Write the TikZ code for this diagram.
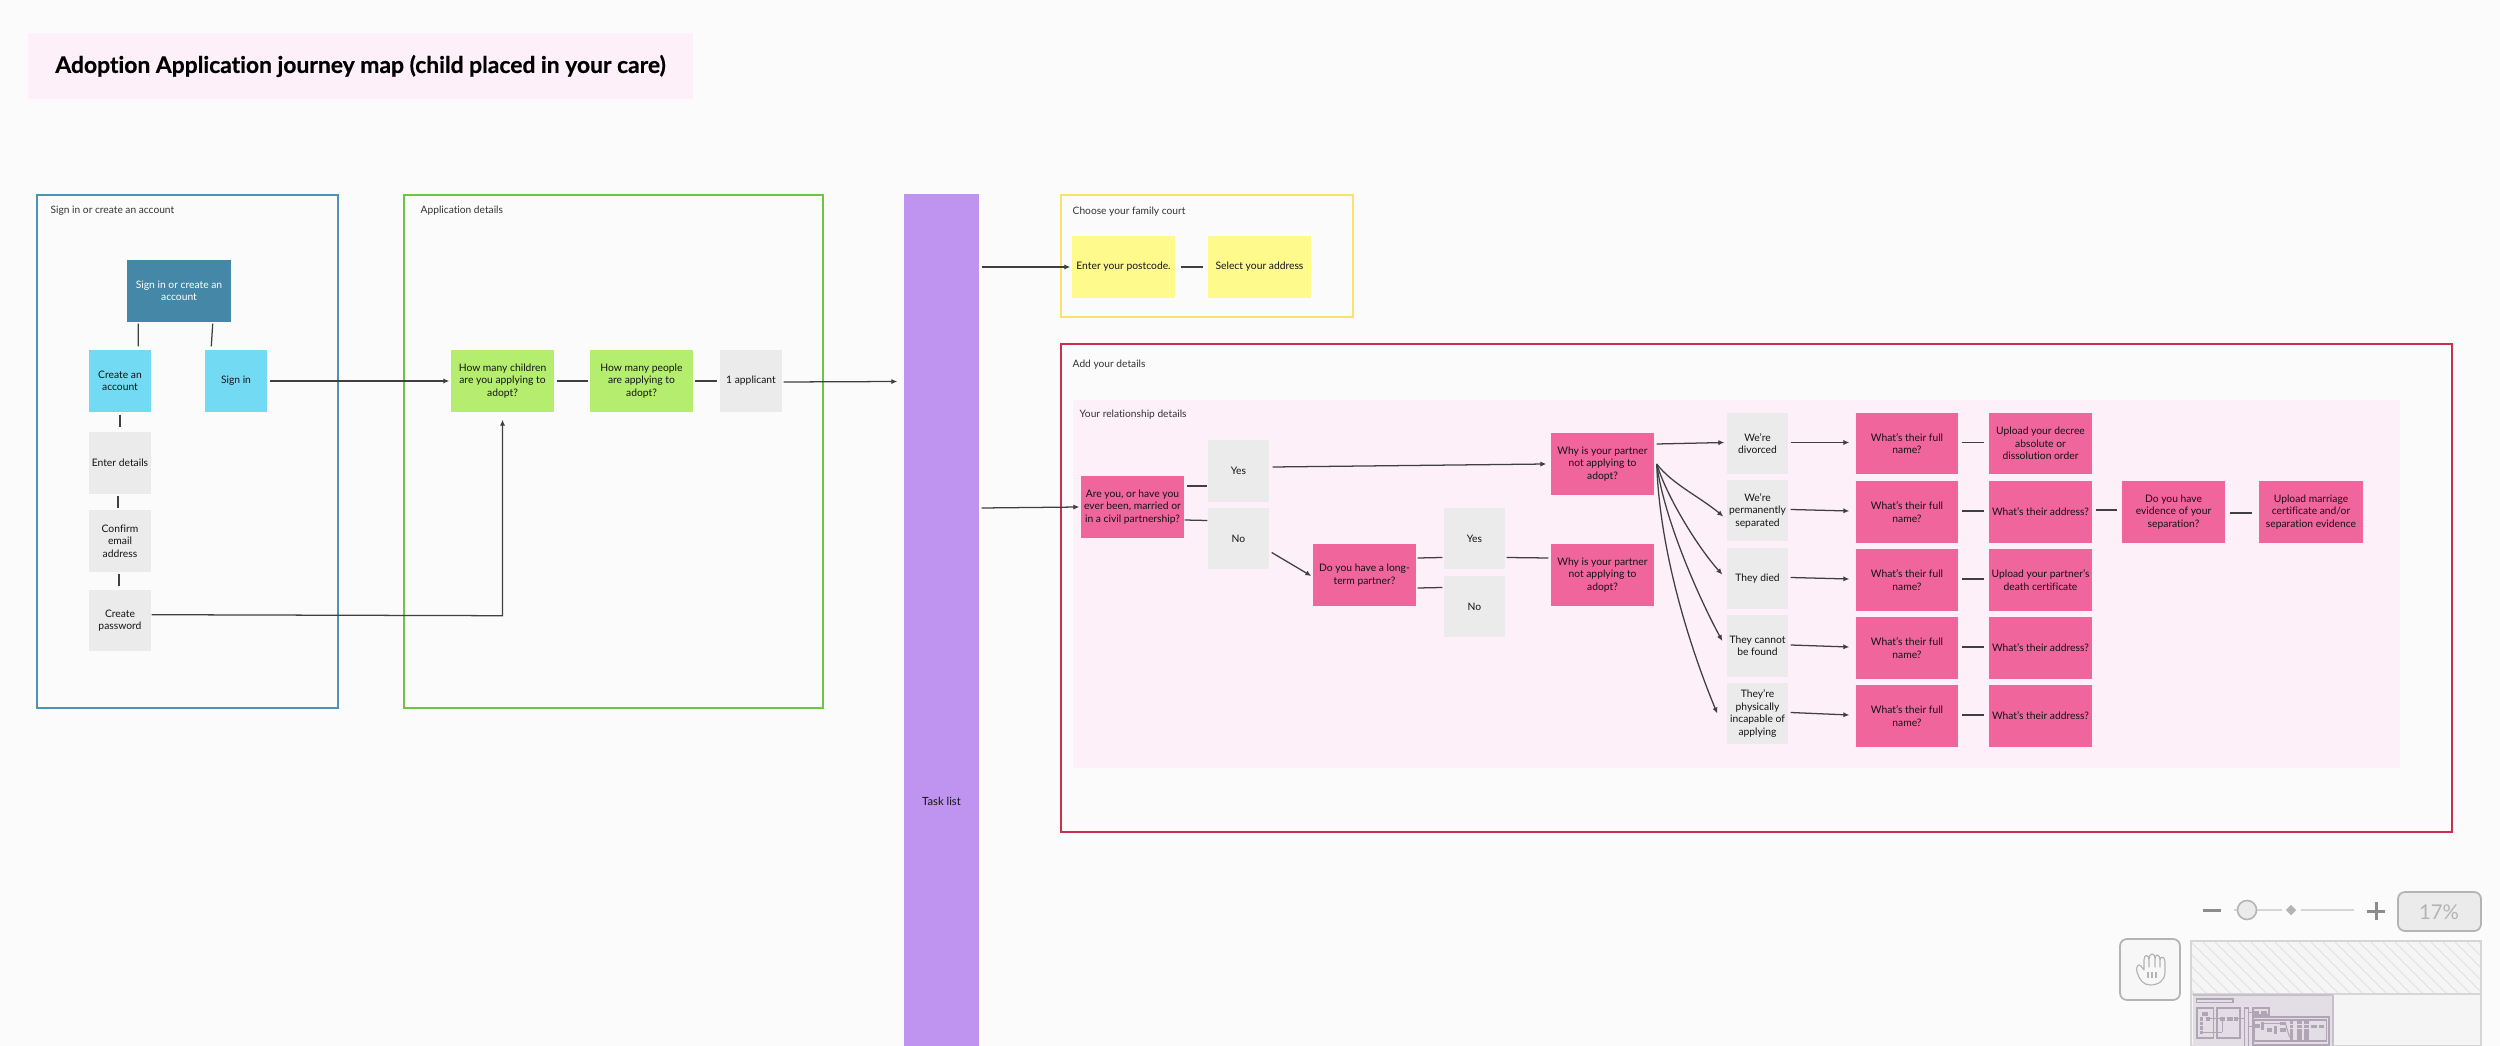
\documentclass[tikz,border=0pt]{standalone}
\usepackage{fontspec}
\setmainfont{Lato}[Ligatures={NoCommon}]
\newfontfamily\titlefont{Lato}[Ligatures={NoCommon},BoldFeatures={FakeBold=0.6}]
\usetikzlibrary{calc,arrows.meta,shapes.geometric}
\definecolor{bgc}{HTML}{FBFBFB}
\definecolor{titlepink}{HTML}{FDF0F8}
\definecolor{framebl}{HTML}{4E93B5}
\definecolor{framegr}{HTML}{6CC644}
\definecolor{frameye}{HTML}{FBE36B}
\definecolor{framere}{HTML}{C9304F}
\definecolor{dkblue}{HTML}{4487A6}
\definecolor{ltblue}{HTML}{72DBF3}
\definecolor{greybox}{HTML}{EBEBEB}
\definecolor{lime}{HTML}{B5EE6E}
\definecolor{purp}{HTML}{BF94F1}
\definecolor{yell}{HTML}{FEFB8C}
\definecolor{rose}{HTML}{EF659C}
\definecolor{uigrey}{HTML}{B4B4B4}
\definecolor{uilight}{HTML}{D6D6D6}
\definecolor{uifill}{HTML}{EBEBEB}
\definecolor{minibg}{HTML}{E3DEE5}
\definecolor{miniln}{HTML}{AFA5B5}
\tikzset{
  x=0.01cm,y=-0.01cm,
  box/.style={draw=none,inner sep=0pt,align=center,text=black!92,font=\fontsize{2.93}{3.55}\selectfont},
  pinkbox/.style={box,fill=rose},
  greyb/.style={box,fill=greybox},
  limeb/.style={box,fill=lime},
  skyb/.style={box,fill=ltblue},
  yellb/.style={box,fill=yell},
  frame/.style={draw,line width=0.8pt,fill=none,inner sep=0pt},
  lbl/.style={inner sep=0pt,anchor=west,text=black!80,font=\fontsize{2.9}{3.4}\selectfont},
  link/.style={draw=black!75,line width=0.36pt},
  arr/.style={link,-{Latex[length=1.7pt,width=1.5pt]}},
  uiline/.style={draw=uigrey,line width=0.5pt}
}
\newcommand{\bx}[7]{%
  \pgfmathsetmacro{\bxw}{(#4-#2)*0.01}%
  \pgfmathsetmacro{\bxh}{(#5-#3)*0.01}%
  \node[#6,minimum width=\bxw cm,minimum height=\bxh cm] (#1) at ({(#2+#4)/2},{(#3+#5)/2}) {#7};}
\begin{document}
\begin{tikzpicture}
\path[use as bounding box,fill=bgc] (0,0) rectangle (2500,1046);
% title
\bx{title}{28}{33}{693}{99}{box,fill=titlepink,text=black,font=\titlefont\fontsize{6.5}{8}\selectfont\bfseries}{Adoption Application journey map (child placed in your care)}
% frames
\bx{fblue}{37}{195}{338}{708}{frame,draw=framebl}{}
\bx{fgreen}{404}{195}{823}{708}{frame,draw=framegr}{}
\bx{fyellow}{1061}{195}{1353}{317}{frame,draw=frameye}{}
\bx{fred}{1061}{344}{2452}{832}{frame,draw=framere}{}
\bx{relbg}{1073}{400}{2400}{768}{box,fill=titlepink}{}
\node[lbl] (lblA) at (50,211) {Sign in or create an account};
\node[lbl] (lblB) at (420,211) {Application details};
\node[lbl] (lblC) at (1072,212) {Choose your family court};
\node[lbl] (lblD) at (1072,365) {Add your details};
\node[lbl] (lblE) at (1079,415) {Your relationship details};
% task list
\bx{task}{904}{194}{979}{1046}{box,fill=purp}{}
\node[box,font=\fontsize{3.2}{3.8}\selectfont] (tasktxt) at (941.5,801) {Task list};
% sign in
\bx{sc}{127}{260}{231}{322}{box,fill=dkblue,text=white}{Sign in or create an\\account}
\bx{ca}{89}{350}{151}{412}{skyb}{Create an\\account}
\bx{si}{205}{350}{267}{412}{skyb}{Sign in}
\bx{ed}{89}{432}{151}{494}{greyb}{Enter details}
\bx{ce}{89}{510}{151}{572}{greyb}{Confirm\\email\\address}
\bx{cp}{89}{590}{151}{651}{greyb}{Create\\password}
% application
\bx{hc}{451}{350}{554}{412}{limeb}{How many children\\are you applying to\\adopt?}
\bx{hp}{590}{350}{693}{412}{limeb}{How many people\\are applying to\\adopt?}
\bx{oa}{720}{350}{782}{412}{greyb}{1 applicant}
% court
\bx{pc}{1072}{236}{1175}{298}{yellb}{Enter your postcode.}
\bx{sa}{1208}{236}{1311}{298}{yellb}{Select your address}
% relationship
\bx{ay}{1081}{476}{1184}{538}{pinkbox}{Are you, or have you\\ever been, married or\\in a civil partnership?}
\bx{y1}{1208}{440}{1269}{502}{greyb}{Yes}
\bx{n1}{1208}{508}{1269}{569}{greyb}{No}
\bx{lt}{1313}{544}{1416}{606}{pinkbox}{Do you have a long-\\term partner?}
\bx{y2}{1444}{508}{1505}{569}{greyb}{Yes}
\bx{n2}{1444}{576}{1505}{637}{greyb}{No}
\bx{w1}{1551}{433}{1654}{495}{pinkbox}{Why is your partner\\not applying to\\adopt?}
\bx{w2}{1551}{544}{1654}{606}{pinkbox}{Why is your partner\\not applying to\\adopt?}
\bx{r1}{1727}{413}{1788}{474}{greyb}{We're\\divorced}
\bx{r2}{1727}{480}{1788}{541}{greyb}{We're\\permanently\\separated}
\bx{r3}{1727}{548}{1788}{609}{greyb}{They died}
\bx{r4}{1727}{615}{1788}{677}{greyb}{They cannot\\be found}
\bx{r5}{1727}{683}{1788}{744}{greyb}{They're\\physically\\incapable of\\applying}
\bx{f1}{1856}{413}{1958}{474}{pinkbox}{What's their full\\name?}
\bx{f2}{1856}{481}{1958}{543}{pinkbox}{What's their full\\name?}
\bx{f3}{1856}{549}{1958}{611}{pinkbox}{What's their full\\name?}
\bx{f4}{1856}{617}{1958}{679}{pinkbox}{What's their full\\name?}
\bx{f5}{1856}{685}{1958}{747}{pinkbox}{What's their full\\name?}
\bx{g1}{1989}{413}{2092}{474}{pinkbox}{Upload your decree\\absolute or\\dissolution order}
\bx{g2}{1989}{481}{2092}{543}{pinkbox}{What's their address?}
\bx{g3}{1989}{549}{2092}{611}{pinkbox}{Upload your partner's\\death certificate}
\bx{g4}{1989}{617}{2092}{679}{pinkbox}{What's their address?}
\bx{g5}{1989}{685}{2092}{747}{pinkbox}{What's their address?}
\bx{ev}{2122}{481}{2225}{543}{pinkbox}{Do you have\\evidence of your\\separation?}
\bx{um}{2259}{481}{2363}{543}{pinkbox}{Upload marriage\\certificate and/or\\separation evidence}
% connectors sign in
\draw[link] ($(sc.south west)+(12,1)$) -- ($(ca.north west)+(50,-3)$);
\draw[link] ($(sc.south east)+(-19,1)$) -- ($(si.north west)+(7,-3)$);
\draw[link] ($(ca.south)+(0,2)$) -- ($(ed.north)+(0,-4)$);
\draw[link] ($(ed.south)+(-2,1)$) -- ($(ce.north)+(-2,-1)$);
\draw[link] ($(ce.south)+(-1,1)$) -- ($(cp.north)+(-1,-3)$);
\draw[arr] ($(si.east)+(2,0)$) -- ($(hc.west)+(-1,0)$);
\coordinate (elbow) at ($(hc.south)+(0,203)$);
\draw[arr] (cp.east |- elbow) ++(0,-1) -- (elbow) -- ($(hc.south)+(0,7)$);
\draw[link] ($(hc.east)+(2,0)$) -- ($(hp.west)+(-1,0)$);
\draw[link] ($(hp.east)+(1,0)$) -- ($(oa.west)+(-2,0)$);
\draw[arr] ($(oa.east)+(1,1)$) -- ($(task.west |- oa.east)+(-6,0.5)$);
% court
\draw[arr] ($(task.east |- pc.west)+(2,0)$) -- ($(pc.west)+(-1,0)$);
\draw[link] ($(pc.east)+(5,0)$) -- ($(sa.west)+(-4,0)$);
% relationship
\draw[arr] ($(task.east |- ay.west)+(2,1)$) -- ($(ay.west)+(-1,0)$);
\draw[link] ($(ay.east)+(2,-21)$) -- ($(y1.west)+(0,15)$);
\draw[link] ($(ay.east)+(0,13)$) -- ($(n1.west)+(0,-18)$);
\draw[arr] ($(y1.east)+(3,-4)$) -- ($(w1.west)+(-4,0)$);
\draw[arr] ($(n1.east)+(2,14)$) -- ($(lt.west)+(-1,1)$);
\draw[link] ($(lt.east)+(1,-17)$) -- ($(y2.west)+(-1,19)$);
\draw[link] ($(lt.east)+(1,13)$) -- ($(n2.west)+(-1,-19)$);
\draw[link] ($(y2.east)+(1,19)$) -- ($(w2.west)+(-2,-17)$);
\draw[arr] ($(w1.east)+(2,-20)$) -- ($(r1.west)+(-2,-1)$);
\draw[arr] ($(w1.east)+(2,0)$) .. controls (1672,484) and (1700,497) .. ($(r2.west)+(-3,6)$);
\draw[arr] ($(w1.east)+(2,0)$) .. controls (1668,500) and (1700,550) .. ($(r3.west)+(-4,-4)$);
\draw[arr] ($(w1.east)+(2,0)$) .. controls (1664,520) and (1700,600) .. ($(r4.west)+(-4,-5)$);
\draw[arr] ($(w1.east)+(2,0)$) .. controls (1660,560) and (1695,660) .. ($(r5.west)+(-9,0)$);
\foreach \i in {1,...,5}{
  \draw[arr] ($(r\i.east)+(2,-1)$) -- ($(f\i.west)+(-6,-1)$);
  \draw[link] ($(f\i.east)+(3,-1)$) -- ($(g\i.west)+(-4,-1)$);
}
\draw[link] ($(g2.east)+(3,-2)$) -- ($(ev.west)+(-4,-2)$);
\draw[link] ($(ev.east)+(4,1)$) -- ($(um.west)+(-6,1)$);
% zoom controls
\draw[line width=0.85pt,draw=black!45] (2203,910) -- (2221,910);
\draw[uilight,line width=0.3pt] (2234,910) -- (2282,910) (2301,910) -- (2354,910);
\node[circle,draw=uigrey,fill=uifill,line width=0.45pt,minimum size=0.19cm,inner sep=0pt] (zoomknob) at (2247,910) {};
\node[diamond,fill=uigrey,inner sep=0pt,minimum size=0.11cm] (zoomtick) at (2291,910) {};
\draw[line width=0.85pt,draw=black!45] (2367,911) -- (2385,911) (2376,902) -- (2376,920);
\draw[uiline,fill=uifill,rounded corners=0.07cm] (2398,892) rectangle (2481,931);
\node[inner sep=0pt,text=uigrey,font=\fontsize{5.8}{7}\selectfont] (zoompct) at (2439,912) {17\%};
% hand button
\draw[uiline,fill=black!3,rounded corners=0.07cm] (2120,939) rectangle (2180,1000);
\draw[uiline,line width=0.33pt,line join=round,line cap=round]
  (2137,972) .. controls (2135,967) and (2139,963) .. (2141,966) -- (2144,970) -- (2144,960)
  .. controls (2144,954) and (2149,954) .. (2149,960)
  .. controls (2149,952) and (2155,952) .. (2155,959)
  .. controls (2155,953) and (2160,954) .. (2160,960)
  .. controls (2160,956) and (2165,956) .. (2165,962) -- (2165,972)
  .. controls (2165,981) and (2158,985) .. (2150,985)
  .. controls (2143,985) and (2139,979) .. (2137,972) -- cycle
  (2149,960) -- (2149,967) (2155,959) -- (2155,967) (2160,960) -- (2160,967);
\draw[uiline,line width=0.33pt] (2148,972) -- (2148,978) (2152,972) -- (2152,978) (2156,972) -- (2156,978);
% minimap
\fill[black!4] (2191,941) rectangle (2481,1046);
\begin{scope}
\clip (2191,941) rectangle (2481,994);
\foreach \s in {0,1,...,34}{\draw[black!12,line width=0.25pt] ({2130+\s*12},941) -- ({2130+\s*12+53},994);}
\end{scope}
\draw[uilight,line width=0.6pt] (2191,941) rectangle (2481,1046) (2191,994) -- (2481,994);
\fill[minibg] (2193,995) rectangle (2333,1046);
\draw[miniln!70,line width=0.35pt] (2333,995) -- (2333,1046) (2193,995) -- (2333,995);
\begin{scope}
\clip (2193,995) rectangle (2333,1046);
\newcommand{\mx}[1]{{2195+0.0547*(#1)}}
\foreach \a/\b/\c/\d in {28/33/693/99,37/195/338/708,404/195/823/708,904/194/979/1046,1061/195/1353/317,1061/344/2452/832,1073/400/2400/768}{
  \draw[miniln,line width=0.45pt] ({2195+0.0547*\a},{997+0.0575*\b}) rectangle ({2195+0.0547*\c},{997+0.0575*\d});
}
\foreach \a/\b/\c/\d in {127/260/231/322,89/350/151/412,205/350/267/412,89/432/151/494,89/510/151/572,89/590/151/651,451/350/554/412,590/350/693/412,720/350/782/412,1072/236/1175/298,1208/236/1311/298,1081/476/1184/538,1208/440/1269/502,1208/508/1269/569,1313/544/1416/606,1444/508/1505/569,1444/576/1505/637,1551/433/1654/495,1551/544/1654/606,1727/413/1788/474,1727/480/1788/541,1727/548/1788/609,1727/615/1788/677,1727/683/1788/744,1856/413/1958/474,1856/481/1958/543,1856/549/1958/611,1856/617/1958/679,1856/685/1958/747,1989/413/2092/474,1989/481/2092/543,1989/549/2092/611,1989/617/2092/679,1989/685/2092/747,2122/481/2225/543,2259/481/2363/543}{
  \fill[miniln] ({2195+0.0547*\a},{997+0.0575*\b}) rectangle ({2195+0.0547*\c},{997+0.0575*\d});
}
\foreach \a/\b/\c/\d in {267/381/451/381,151/614/502/614,502/614/502/412,782/382/904/382,979/267/1072/267,979/508/1081/508,1269/465/1551/465,1654/464/1727/700}{
  \draw[miniln,line width=0.3pt] ({2195+0.0547*\a},{997+0.0575*\b}) -- ({2195+0.0547*\c},{997+0.0575*\d});
}
\end{scope}
\end{tikzpicture}
\end{document}
